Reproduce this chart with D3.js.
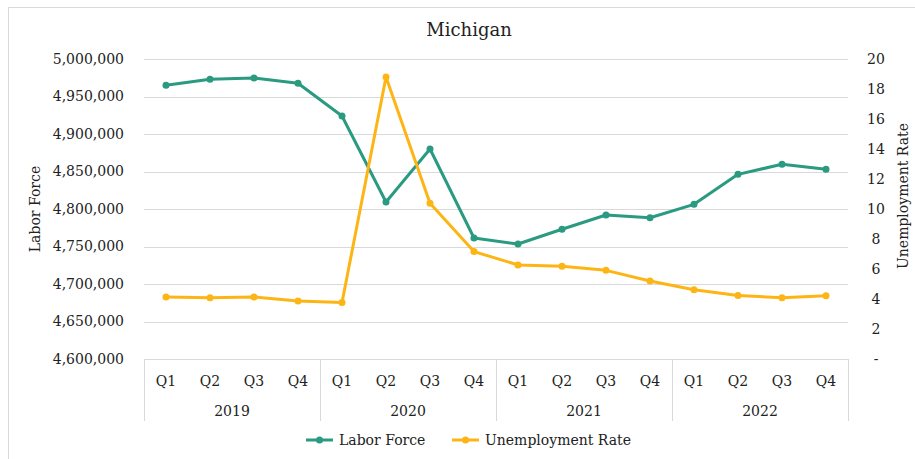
<!DOCTYPE html>
<meta charset="utf-8">
<script src="https://d3js.org/d3.v7.min.js"></script>
<style>
  body { margin: 0; background: #fff; }
  text { font-family: "DejaVu Serif", serif; fill: #222; }
</style>
<div id="chart"></div>
<script>
// data
var years = ["2019", "2020", "2021", "2022"];
var quarters = ["Q1", "Q2", "Q3", "Q4"];
var laborForce = [4965000, 4973000, 4974700, 4967600,
                  4924000, 4809300, 4880000, 4761300,
                  4753300, 4773000, 4792000, 4788400,
                  4806200, 4846200, 4859600, 4853000];
var unempRate = [4.13, 4.09, 4.13, 3.87,
                 3.76, 18.8, 10.38, 7.16,
                 6.27, 6.18, 5.91, 5.2,
                 4.62, 4.24, 4.09, 4.22];
var leftTicks = d3.range(4600000, 5000001, 50000);
var rightTicks = d3.range(0, 21, 2);

var green = "#2a9a80", yellow = "#fdb515";
var W = 915, H = 459;
var plotL = 144, plotR = 848, plotT = 59, plotB = 359;

var cats = [];
years.forEach(function(y) { quarters.forEach(function(q) { cats.push(y + " " + q); }); });

var svg = d3.select("#chart").append("svg").attr("width", W).attr("height", H);

// chart border
svg.append("rect").attr("x", 8.5).attr("y", 7.5).attr("width", 930).attr("height", 480)
  .attr("fill", "none").attr("stroke", "#d9d9d9");

var x = d3.scaleBand().domain(cats).range([plotL, plotR]);
var yL = d3.scaleLinear().domain([4600000, 5000000]).range([plotB, plotT]);
var yR = d3.scaleLinear().domain([0, 20]).range([plotB, plotT]);

// gridlines
svg.append("g").selectAll("line").data(leftTicks.slice(1)).enter().append("line")
  .attr("x1", plotL).attr("x2", plotR)
  .attr("y1", function(d) { return Math.round(yL(d)) + 0.5; })
  .attr("y2", function(d) { return Math.round(yL(d)) + 0.5; })
  .attr("stroke", "#d9d9d9").attr("stroke-width", 1);

// left axis
var fmt = d3.format(",");
svg.append("g").selectAll("text").data(leftTicks).enter().append("text")
  .attr("x", 124).attr("y", function(d) { return yL(d); })
  .attr("dy", "0.35em").attr("text-anchor", "end").attr("font-size", 14)
  .text(function(d) { return fmt(d); });

// right axis
svg.append("g").selectAll("text").data(rightTicks).enter().append("text")
  .attr("x", 876).attr("y", function(d) { return yR(d); })
  .attr("dy", "0.35em").attr("text-anchor", "middle").attr("font-size", 14)
  .text(function(d) { return d === 0 ? "-" : d; });

// x axis: baseline, quarter labels, year groups
svg.append("line").attr("x1", plotL).attr("x2", plotR)
  .attr("y1", plotB + 0.5).attr("y2", plotB + 0.5).attr("stroke", "#d9d9d9");
svg.append("g").selectAll("text").data(cats).enter().append("text")
  .attr("x", function(d) { return x(d) + x.bandwidth() / 2; })
  .attr("y", 386).attr("text-anchor", "middle").attr("font-size", 14)
  .text(function(d) { return d.split(" ")[1]; });

var yearEdges = years.map(function(y) { return x(y + " Q1"); }).concat([plotR]);
svg.append("g").selectAll("line").data(yearEdges).enter().append("line")
  .attr("x1", function(d) { return Math.round(d) + 0.5; })
  .attr("x2", function(d) { return Math.round(d) + 0.5; })
  .attr("y1", plotB).attr("y2", 421).attr("stroke", "#d9d9d9");
svg.append("g").selectAll("text").data(years).enter().append("text")
  .attr("x", function(y) { return x(y + " Q1") + x.bandwidth() * 2; })
  .attr("y", 416).attr("text-anchor", "middle").attr("font-size", 14)
  .text(function(y) { return y; });

// series
function drawSeries(vals, yScale, color) {
  var line = d3.line()
    .x(function(d, i) { return x(cats[i]) + x.bandwidth() / 2; })
    .y(function(d) { return yScale(d); });
  svg.append("path").datum(vals).attr("d", line)
    .attr("fill", "none").attr("stroke", color).attr("stroke-width", 3)
    .attr("stroke-linejoin", "round");
  svg.append("g").selectAll("circle").data(vals).enter().append("circle")
    .attr("cx", function(d, i) { return x(cats[i]) + x.bandwidth() / 2; })
    .attr("cy", function(d) { return yScale(d); })
    .attr("r", 3.5).attr("fill", color);
}
drawSeries(laborForce, yL, green);
drawSeries(unempRate, yR, yellow);

// title and axis titles
svg.append("text").attr("x", 469).attr("y", 36).attr("text-anchor", "middle")
  .attr("font-size", 18).text("Michigan");
svg.append("text").attr("transform", "translate(40,209) rotate(-90)")
  .attr("text-anchor", "middle").attr("font-size", 14).text("Labor Force");
svg.append("text").attr("transform", "translate(908,196) rotate(-90)")
  .attr("text-anchor", "middle").attr("font-size", 14).text("Unemployment Rate");

// legend
var legend = [{name: "Labor Force", color: green, x: 306}, {name: "Unemployment Rate", color: yellow, x: 452}];
var lg = svg.append("g").selectAll("g").data(legend).enter().append("g")
  .attr("transform", function(d) { return "translate(" + d.x + ",440)"; });
lg.append("line").attr("x1", 0).attr("x2", 27).attr("y1", 0).attr("y2", 0)
  .attr("stroke", function(d) { return d.color; }).attr("stroke-width", 3);
lg.append("circle").attr("cx", 13.5).attr("cy", 0).attr("r", 3.5)
  .attr("fill", function(d) { return d.color; });
lg.append("text").attr("x", 33).attr("dy", "0.35em").attr("font-size", 14)
  .text(function(d) { return d.name; });
</script>
